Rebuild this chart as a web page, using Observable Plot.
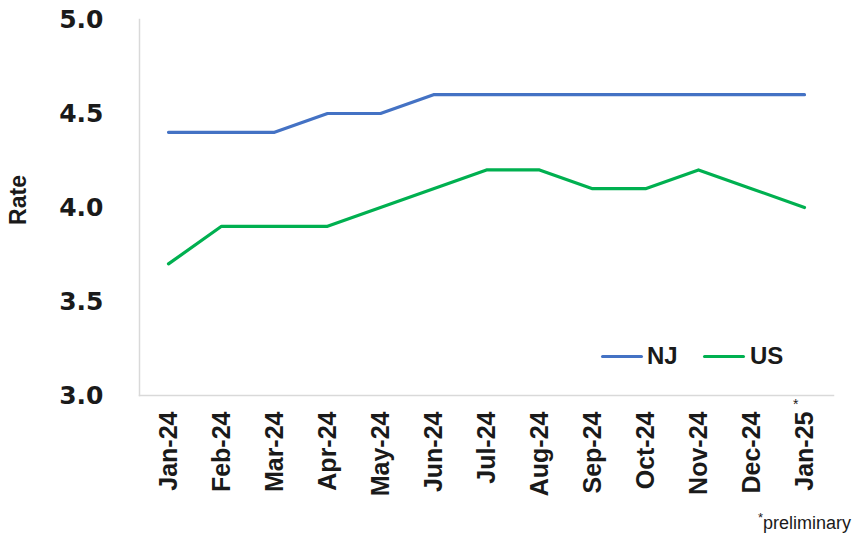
<!DOCTYPE html>
<html>
<head>
<meta charset="utf-8">
<script src="https://cdn.jsdelivr.net/npm/d3@7"></script>
<script src="https://cdn.jsdelivr.net/npm/@observablehq/plot@0.6"></script>
<style>
  html, body { margin: 0; padding: 0; background: #fff; }
  #wrap { position: relative; width: 856px; height: 535px; }
  .lg { position: absolute; font-family: "Liberation Sans", sans-serif; font-weight: bold; font-size: 24px; color: #1a1a1a; }
  .sw { position: absolute; height: 3px; width: 42px; border-radius: 2px; }
  #note { position: absolute; right: 5px; top: 510px; font-family: "Liberation Sans", sans-serif; font-size: 18px; color: #1a1a1a; }
  #ast { position: absolute; left: 793px; top: 396px; font-family: "Liberation Sans", sans-serif; font-size: 14px; color: #1a1a1a; }
  #ylab { position: absolute; left: 18px; top: 200px; transform: translate(-50%, -50%) rotate(-90deg); font-family: "Liberation Sans", sans-serif; font-weight: bold; font-size: 23px; color: #1a1a1a; white-space: nowrap; }
</style>
</head>
<body>
<div id="wrap"></div>
<script>
const months = ["Jan-24","Feb-24","Mar-24","Apr-24","May-24","Jun-24","Jul-24","Aug-24","Sep-24","Oct-24","Nov-24","Dec-24","Jan-25"];
const nj = [4.4, 4.4, 4.4, 4.5, 4.5, 4.6, 4.6, 4.6, 4.6, 4.6, 4.6, 4.6, 4.6];
const us = [3.7, 3.9, 3.9, 3.9, 4.0, 4.1, 4.2, 4.2, 4.1, 4.1, 4.2, 4.1, 4.0];
const yTicks = [3.0, 3.5, 4.0, 4.5, 5.0];
const seriesNames = ["NJ", "US"];
const seriesColors = ["#4472C4", "#00B050"];

const rows = [];
months.forEach((m, i) => {
  rows.push({month: m, series: "NJ", rate: nj[i]});
  rows.push({month: m, series: "US", rate: us[i]});
});

const chart = Plot.plot({
  width: 856,
  height: 535,
  marginLeft: 139,
  marginRight: 23,
  marginTop: 19,
  marginBottom: 140,
  style: {background: "#fff", color: "#1a1a1a"},
  x: {type: "point", domain: months, padding: 0.5, label: null},
  y: {domain: [3, 5], label: null},
  color: {domain: seriesNames, range: seriesColors},
  marks: [
    Plot.frame({anchor: "left", stroke: "#d9d9d9", strokeWidth: 1.5}),
    Plot.frame({anchor: "bottom", stroke: "#d9d9d9", strokeWidth: 1.5}),
    Plot.axisY(yTicks, {tickSize: 0, tickPadding: 36, tickFormat: d3.format(".1f"), fontSize: 25, fontWeight: "bold", fontFamily: "DejaVu Sans, sans-serif", label: null}),
    Plot.axisX({tickSize: 0, tickPadding: 16, tickRotate: -90, fontSize: 25, fontWeight: "bold", fontFamily: "Liberation Sans, sans-serif", label: null}),
    Plot.line(rows, {x: "month", y: "rate", z: "series", stroke: "series", strokeWidth: 3.2, strokeLinejoin: "round", strokeLinecap: "round"})
  ]
});
const wrap = document.getElementById("wrap");
wrap.appendChild(chart);

const ylab = document.createElement("div");
ylab.id = "ylab"; ylab.textContent = "Rate";
wrap.appendChild(ylab);

// legend
const lgPos = [{sw: 601, tx: 647}, {sw: 703, tx: 750}];
seriesNames.forEach((s, i) => {
  const sw = document.createElement("div");
  sw.className = "sw";
  sw.style.left = lgPos[i].sw + "px";
  sw.style.top = "355px";
  sw.style.background = seriesColors[i];
  wrap.appendChild(sw);
  const t = document.createElement("div");
  t.className = "lg";
  t.style.left = lgPos[i].tx + "px";
  t.style.top = "342px";
  t.textContent = s;
  wrap.appendChild(t);
});
const ast = document.createElement("div");
ast.id = "ast"; ast.textContent = "*";
wrap.appendChild(ast);
const note = document.createElement("div");
note.id = "note";
note.innerHTML = "<sup style='font-size:13px'>*</sup>preliminary";
wrap.appendChild(note);
</script>
</body>
</html>
